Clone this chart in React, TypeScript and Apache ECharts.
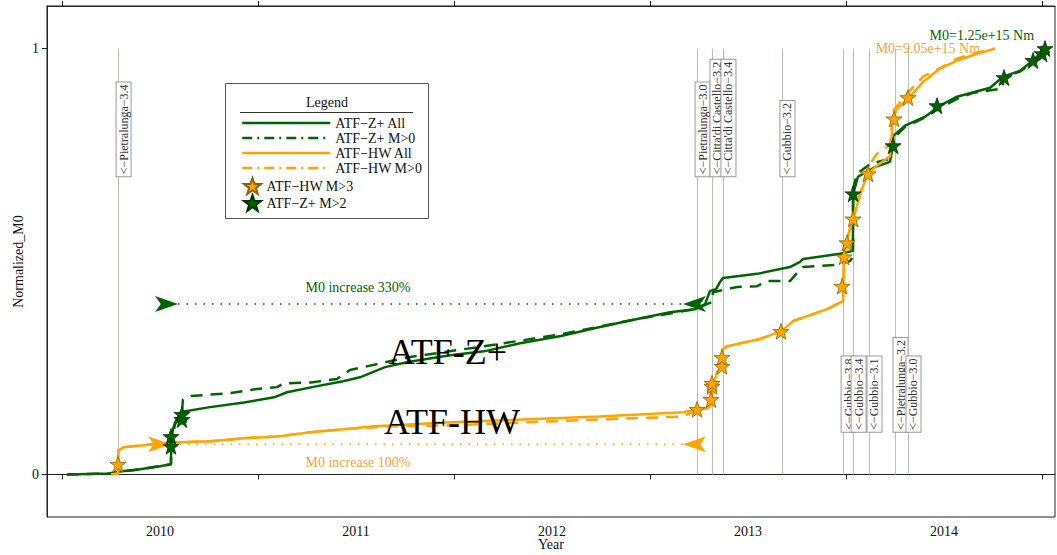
import React, { useEffect, useRef } from "react";
import * as echarts from "echarts";

const FONT = '"Liberation Serif", "DejaVu Serif", serif';
const GREEN = "#006400";
const ORANGE = "#FFA500";
const ORANGE_TEXT = "#f0a43a";

// axis ranges (decimal years / normalized M0)
const xMin = 2009.9235;
const xMax = 2015.066;
const yearTicks = [2010, 2011, 2012, 2013, 2014, 2015];
const yearLabelPos = [2010.5, 2011.5, 2012.5, 2013.5, 2014.5];
const yTicks = [0, 1];

// cumulative normalized moment curves [decimal year, normalized M0]
const atfZAll: [number, number][] = [
  [2010.026, 0], [2010.24, 0.002], [2010.296, 0.007], [2010.398, 0.012], [2010.5, 0.019], [2010.556, 0.024],
  [2010.557, 0.075], [2010.566, 0.106], [2010.577, 0.122], [2010.607, 0.146], [2010.622, 0.148], [2010.755, 0.158],
  [2010.929, 0.169], [2011.082, 0.181], [2011.148, 0.193], [2011.276, 0.205], [2011.434, 0.219], [2011.52, 0.228],
  [2011.648, 0.252], [2011.765, 0.264], [2011.98, 0.28], [2012.153, 0.289], [2012.337, 0.308], [2012.546, 0.325],
  [2012.745, 0.346], [2012.934, 0.365], [2013.102, 0.381], [2013.23, 0.388], [2013.281, 0.4], [2013.306, 0.431],
  [2013.337, 0.435], [2013.357, 0.452], [2013.372, 0.461], [2013.546, 0.471], [2013.714, 0.487], [2013.765, 0.499],
  [2013.781, 0.506], [2013.969, 0.518], [2014.035, 0.525], [2014.036, 0.659], [2014.061, 0.699], [2014.148, 0.722],
  [2014.224, 0.734], [2014.24, 0.772], [2014.241, 0.795], [2014.301, 0.819], [2014.403, 0.84], [2014.48, 0.866],
  [2014.566, 0.887], [2014.735, 0.908], [2014.801, 0.934], [2014.888, 0.948], [2014.954, 0.972], [2015.005, 0.995],
  [2015.026, 1.0],
];

const atfZM0: [number, number][] = [
  [2010.026, 0], [2010.24, 0.002], [2010.398, 0.012], [2010.556, 0.024], [2010.557, 0.075], [2010.577, 0.118],
  [2010.612, 0.146], [2010.617, 0.176], [2010.658, 0.184], [2010.862, 0.191], [2010.985, 0.2], [2011.097, 0.205],
  [2011.133, 0.214], [2011.27, 0.216], [2011.403, 0.224], [2011.469, 0.245], [2011.765, 0.275], [2012.153, 0.301],
  [2012.546, 0.329], [2012.934, 0.365], [2013.23, 0.388], [2013.281, 0.398], [2013.316, 0.405], [2013.321, 0.428],
  [2013.444, 0.44], [2013.546, 0.442], [2013.597, 0.454], [2013.714, 0.454], [2013.75, 0.473], [2013.781, 0.487],
  [2013.954, 0.492], [2014.02, 0.501], [2014.035, 0.511], [2014.036, 0.671], [2014.056, 0.706], [2014.122, 0.729],
  [2014.224, 0.741], [2014.24, 0.788], [2014.301, 0.816], [2014.403, 0.838], [2014.48, 0.861], [2014.566, 0.882],
  [2014.648, 0.896], [2014.796, 0.906], [2014.806, 0.934], [2014.888, 0.946], [2014.954, 0.969], [2015.005, 0.995],
  [2015.026, 1.0],
];

const atfHWAll: [number, number][] = [
  [2010.25, 0], [2010.286, 0.002], [2010.287, 0.056], [2010.316, 0.064], [2010.469, 0.071], [2010.556, 0.075],
  [2010.76, 0.078], [2010.929, 0.085], [2011.097, 0.089], [2011.27, 0.099], [2011.439, 0.106], [2011.592, 0.113],
  [2011.959, 0.122], [2012.352, 0.129], [2012.74, 0.136], [2013.168, 0.146], [2013.24, 0.153], [2013.286, 0.155],
  [2013.306, 0.16], [2013.316, 0.176], [2013.321, 0.207], [2013.342, 0.24], [2013.367, 0.254], [2013.372, 0.294],
  [2013.393, 0.301], [2013.561, 0.318], [2013.668, 0.336], [2013.73, 0.36], [2013.903, 0.388], [2013.985, 0.407],
  [2013.986, 0.442], [2013.99, 0.511], [2014.005, 0.546], [2014.02, 0.576], [2014.036, 0.6], [2014.056, 0.631],
  [2014.087, 0.678], [2014.112, 0.706], [2014.158, 0.725], [2014.224, 0.748], [2014.24, 0.835], [2014.26, 0.859],
  [2014.316, 0.882], [2014.393, 0.922], [2014.48, 0.953], [2014.566, 0.972], [2014.668, 0.988], [2014.76, 1.0],
];

const atfHWM0: [number, number][] = [
  [2010.25, 0], [2010.286, 0.002], [2010.287, 0.056], [2010.316, 0.064], [2010.469, 0.071], [2010.556, 0.075],
  [2010.76, 0.078], [2010.929, 0.085], [2011.097, 0.089], [2011.27, 0.099], [2011.439, 0.106], [2011.668, 0.113],
  [2011.959, 0.115], [2012.352, 0.122], [2012.74, 0.129], [2013.168, 0.136], [2013.24, 0.151], [2013.286, 0.155],
  [2013.306, 0.16], [2013.316, 0.176], [2013.321, 0.207], [2013.342, 0.24], [2013.367, 0.254], [2013.372, 0.294],
  [2013.393, 0.301], [2013.561, 0.318], [2013.668, 0.336], [2013.73, 0.36], [2013.903, 0.388], [2013.985, 0.407],
  [2013.986, 0.442], [2013.99, 0.511], [2014.005, 0.553], [2014.031, 0.595], [2014.056, 0.635], [2014.087, 0.682],
  [2014.112, 0.722], [2014.158, 0.753], [2014.224, 0.774], [2014.24, 0.854], [2014.311, 0.894], [2014.393, 0.934],
  [2014.495, 0.958], [2014.566, 0.976], [2014.668, 0.991], [2014.76, 1.0],
];

// large events
const hwM3: [number, number][] = [
  [2010.286, 0.024], [2013.24, 0.153], [2013.311, 0.176], [2013.316, 0.207], [2013.316, 0.214], [2013.367, 0.254],
  [2013.367, 0.275], [2013.668, 0.336], [2013.98, 0.442], [2013.99, 0.511], [2014.005, 0.544], [2014.036, 0.6],
  [2014.112, 0.706], [2014.245, 0.835], [2014.316, 0.885],
];
const zM2: [number, number][] = [
  [2010.556, 0.089], [2010.556, 0.066], [2010.612, 0.129], [2010.612, 0.141], [2014.036, 0.659], [2014.24, 0.772],
  [2014.464, 0.866], [2014.806, 0.932], [2014.954, 0.972], [2015.0, 0.988], [2015.015, 1.0],
];

// seismic sequences (time, label anchor level)
const eventNames = [
  "<−Pietralunga−3.4", "<−Pietralunga−3.0", "<−Citta'di Castello−3.2", "<−Citta'di Castello−3.4", "<−Gubbio−3.2",
  "<−Gubbio−3.8", "<−Gubbio−3.4", "<−Gubbio−3.1", "<−Pietralunga−3.2", "<−Gubbio−3.0",
];
const eventTimes = [2010.286, 2013.24, 2013.316, 2013.372, 2013.673, 2013.985, 2014.036, 2014.117, 2014.25, 2014.316];
const eventLabelLevel = [0.7, 0.7, 0.7, 0.7, 0.7, 0.1, 0.1, 0.1, 0.1, 0.1];

// increase arrows: level, start (left tip), end (right tip)
const arrowLevels = [0.4, 0.071];
const arrowFrom = [2010.592, 2010.556];
const arrowTo = [2013.168, 2013.168];

// text annotations
const notes = [
  { text: "M0 increase 330%", x: 2011.51, y: 0.44, color: GREEN, size: 14, align: "center" },
  { text: "M0 increase 100%", x: 2011.51, y: 0.028, color: ORANGE_TEXT, size: 14, align: "center" },
  { text: "ATF-Z+", x: 2011.969, y: 0.287, color: "#000", size: 36, align: "center" },
  { text: "ATF-HW", x: 2011.99, y: 0.122, color: "#000", size: 36, align: "center" },
  { text: "M0=1.25e+15 Nm", x: 2014.959, y: 1.031, color: GREEN, size: 14, align: "right" },
  { text: "M0=9.05e+15 Nm", x: 2014.684, y: 1.0, color: ORANGE_TEXT, size: 14, align: "right" },
];

const STAR =
  "path://M50,2 L61.8,36.2 L97.6,36.2 L68.9,57.6 L79.4,91.8 L50,71 L20.6,91.8 L31.1,57.6 L2.4,36.2 L38.2,36.2 Z";

const DASH_PLOT = [12, 8];
const DASH_LEGEND = [10, 5, 2, 5];

function buildOption(): any {
  const axisText = { fontFamily: FONT, fontSize: 14, color: "#111" };
  const legendText = { fontFamily: FONT, fontSize: 14, color: "#111" };
  return {
    animation: false,
    backgroundColor: "#fff",
    grid: {
      left: 47,
      right: 2,
      top: 6,
      bottom: 38,
      containLabel: false,
      outerBoundsMode: "none",
      show: true,
      borderColor: "#222",
      borderWidth: 1,
      backgroundColor: "transparent",
    },
    xAxis: [
      {
        type: "value",
        min: xMin,
        max: xMax,
        position: "bottom",
        axisLine: { show: true, lineStyle: { color: "#222" } },
        axisTick: { show: true, inside: false, length: 5, customValues: yearTicks, lineStyle: { color: "#222" } },
        axisLabel: { customValues: yearLabelPos, formatter: (v: number) => String(Math.floor(v)), margin: 7, ...axisText },
        splitLine: { show: false },
        name: "Year",
        nameLocation: "middle",
        nameGap: 20,
        nameMoveOverlap: false,
        nameTextStyle: { ...axisText, lineHeight: 14 },
      },
      {
        type: "value",
        min: xMin,
        max: xMax,
        position: "top",
        axisLine: { show: true, lineStyle: { color: "#222" } },
        axisTick: { show: true, inside: false, length: 5, customValues: yearTicks, lineStyle: { color: "#222" } },
        axisLabel: { show: false },
        splitLine: { show: false },
      },
    ],
    yAxis: {
      type: "value",
      min: -0.1,
      max: 1.1,
      axisLine: { show: true, lineStyle: { color: "#222" } },
      axisTick: { show: true, inside: false, length: 5, customValues: yTicks, lineStyle: { color: "#222" } },
      axisLabel: { customValues: yTicks, margin: 8, ...axisText },
      splitLine: { show: false },
      name: "Normalized_M0",
      nameLocation: "middle",
      nameGap: 22,
      nameMoveOverlap: false,
      nameRotate: 90,
      nameTextStyle: axisText,
    },
    legend: [
      {
        orient: "vertical",
        left: 241,
        top: 116,
        padding: 0,
        itemWidth: 88,
        itemHeight: 14,
        itemGap: 1,
        selectedMode: false,
        lineStyle: { width: 2.5 },
        itemStyle: { opacity: 0, borderWidth: 0 },
        textStyle: legendText,
        data: [
          { name: "ATF−Z+ All" },
          { name: "ATF−Z+ M>0", lineStyle: { type: DASH_LEGEND } },
          { name: "ATF−HW All" },
          { name: "ATF−HW M>0", lineStyle: { type: DASH_LEGEND } },
        ],
        z: 6,
      },
      {
        orient: "vertical",
        left: 243,
        top: 177,
        padding: 0,
        itemWidth: 18,
        itemHeight: 16,
        itemGap: -1,
        selectedMode: false,
        textStyle: legendText,
        data: ["ATF−HW M>3", "ATF−Z+ M>2"],
        z: 6,
      },
    ],
    graphic: [
      {
        type: "rect",
        x: 225.5,
        y: 83.5,
        shape: { x: 0, y: 0, width: 203, height: 135 },
        style: { fill: "#fff", stroke: "#555", lineWidth: 1 },
        z: 3,
      },
      {
        type: "text",
        x: 327,
        y: 102,
        style: { text: "Legend", fontFamily: FONT, fontSize: 14, fill: "#111", align: "center", verticalAlign: "middle" },
        z: 5,
      },
      {
        type: "line",
        shape: { x1: 240, y1: 112.5, x2: 413, y2: 112.5 },
        style: { stroke: "#333", lineWidth: 1 },
        z: 5,
      },
    ],
    series: [
      {
        type: "custom",
        name: "events",
        z: 1,
        clip: false,
        data: eventTimes.map((t, i) => [t, eventLabelLevel[i]]),
        renderItem: (params: any, api: any) => {
          const t = api.value(0);
          const lv = api.value(1);
          const p0 = api.coord([t, 0]);
          const p1 = api.coord([t, 1]);
          const pl = api.coord([t, lv]);
          return {
            type: "group",
            children: [
              {
                type: "line",
                shape: { x1: Math.round(p0[0]) + 0.5, y1: p0[1], x2: Math.round(p1[0]) + 0.5, y2: p1[1] },
                style: { stroke: "#b3c4b3", lineWidth: 1 },
              },
              {
                type: "text",
                x: pl[0] + 5.5,
                y: pl[1],
                rotation: Math.PI / 2,
                style: {
                  text: eventNames[params.dataIndex],
                  fontFamily: FONT,
                  fontSize: 12,
                  fill: "#333",
                  align: "left",
                  verticalAlign: "middle",
                  backgroundColor: "#fff",
                  borderColor: "#999",
                  borderWidth: 1,
                  padding: [1, 2, 1, 2],
                },
              },
            ],
          };
        },
      },
      {
        type: "line",
        name: "ATF−Z+ All",
        data: atfZAll,
        symbol: "none",
        lineStyle: { color: GREEN, width: 2.5 },
        itemStyle: { color: GREEN },
        z: 2,
      },
      {
        type: "line",
        name: "ATF−Z+ M>0",
        data: atfZM0,
        symbol: "none",
        lineStyle: { color: GREEN, width: 2.5, type: DASH_PLOT },
        itemStyle: { color: GREEN },
        z: 2,
      },
      {
        type: "line",
        name: "ATF−HW All",
        data: atfHWAll,
        symbol: "none",
        lineStyle: { color: ORANGE, width: 2.5 },
        itemStyle: { color: ORANGE },
        z: 2,
      },
      {
        type: "line",
        name: "ATF−HW M>0",
        data: atfHWM0,
        symbol: "none",
        lineStyle: { color: ORANGE, width: 2.5, type: DASH_PLOT },
        itemStyle: { color: ORANGE },
        z: 2,
      },
      ...arrowLevels.map((lv, i) => ({
        type: "line",
        name: "arrowLine" + i,
        data: [[arrowFrom[i], lv], [arrowTo[i], lv]],
        symbol: "none",
        lineStyle: { color: i === 0 ? GREEN : ORANGE, width: 1.5, type: [1.5, 7] },
        z: 3,
      })),
      ...arrowLevels.map((lv, i) => ({
        type: "scatter",
        name: "arrowHead" + i,
        symbol: "arrow",
        symbolSize: [12, 23],
        itemStyle: { color: i === 0 ? GREEN : ORANGE, opacity: 1 },
        data: [
          { value: [arrowFrom[i], lv], symbolRotate: -90 },
          { value: [arrowTo[i], lv], symbolRotate: 90 },
        ],
        z: 4,
      })),
      {
        type: "scatter",
        name: "ATF−HW M>3",
        data: hwM3,
        symbol: STAR,
        symbolSize: 16,
        itemStyle: { color: ORANGE, borderColor: "#8a6400", borderWidth: 0.8, opacity: 1 },
        z: 5,
      },
      {
        type: "scatter",
        name: "ATF−Z+ M>2",
        data: zM2,
        symbol: STAR,
        symbolSize: 16,
        itemStyle: { color: GREEN, borderColor: "#003300", borderWidth: 0.8, opacity: 1 },
        z: 5,
      },
      {
        type: "custom",
        name: "notes",
        z: 6,
        clip: false,
        data: notes.map((n) => [n.x, n.y]),
        renderItem: (params: any, api: any) => {
          const n = notes[params.dataIndex];
          const p = api.coord([api.value(0), api.value(1)]);
          return {
            type: "text",
            x: p[0],
            y: p[1],
            style: {
              text: n.text,
              fontFamily: FONT,
              fontSize: n.size,
              fill: n.color,
              align: n.align,
              verticalAlign: "middle",
            },
          };
        },
      },
    ],
  };
}

export default function App() {
  const ref = useRef<HTMLDivElement>(null);
  useEffect(() => {
    if (!ref.current) return;
    const chart = echarts.init(ref.current, undefined, { renderer: "svg" });
    chart.setOption(buildOption());
    return () => chart.dispose();
  }, []);
  return (
    <div
      ref={ref}
      style={{ position: "fixed", left: 0, top: 0, width: 1057, height: 555, background: "#fff" }}
    />
  );
}
